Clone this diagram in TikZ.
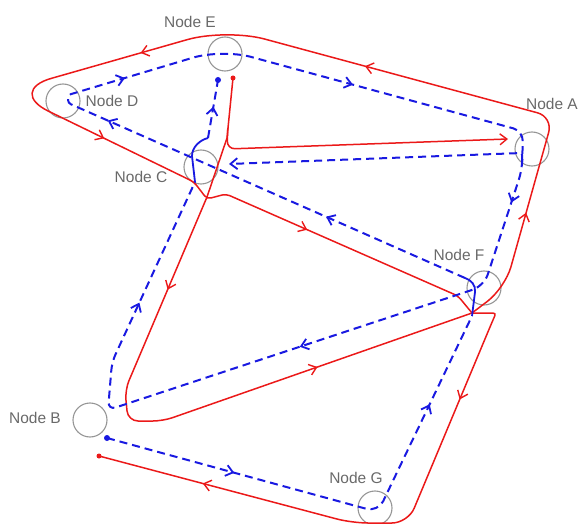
\documentclass[tikz,border=0pt]{standalone}
\usepackage{fontspec}
\setmainfont{Liberation Sans}
\usetikzlibrary{arrows.meta,decorations.markings}
\definecolor{lblgray}{RGB}{105,105,105}
\definecolor{circgray}{RGB}{150,150,150}
\definecolor{rline}{RGB}{235,25,25}
\definecolor{bline}{RGB}{25,25,225}
\tikzset{
  nd/.style={circle, draw=circgray, line width=1.1pt, minimum size=34pt, inner sep=0pt},
  lbl/.style={text=lblgray, font=\fontsize{15.5}{18}\selectfont, inner sep=0pt},
  redl/.style={draw=rline, line width=1.5pt},
  bluel/.style={draw=bline, line width=2pt, dash pattern=on 8pt off 5pt},
  bluesolid/.style={draw=bline, line width=1.8pt},
  rmtip/.tip={Straight Barb[length=7pt,width=11pt,line width=1.4pt,color=rline]},
  bmtip/.tip={Straight Barb[length=7pt,width=11pt,line width=1.8pt,color=bline]},
  rarr/.style={draw=none, decoration={markings, mark=at position #1 with {\arrow{rmtip}}}, decorate},
  barr/.style={draw=none, decoration={markings, mark=at position #1 with {\arrow{bmtip}}}, decorate}
}
\begin{document}
\begin{tikzpicture}[x=1pt,y=-1pt]
\useasboundingbox (0,0) rectangle (579,524);

% nodes
\node[nd] (E) at (225,54) {};
\node[nd] (D) at (63,101) {};
\node[nd] (C) at (201,167) {};
\node[nd] (A) at (532,149) {};
\node[nd] (F) at (484,288) {};
\node[nd] (B) at (90,420) {};
\node[nd] (G) at (375,508) {};

% labels
\node[lbl] (lE) at (190,22) {Node E};
\node[lbl] (lD) at (112,101) {Node D};
\node[lbl] (lC) at (141,177) {Node C};
\node[lbl] (lA) at (552,104) {Node A};
\node[lbl] (lF) at (459,255) {Node F};
\node[lbl] (lB) at (35,418) {Node B};
\node[lbl] (lG) at (356,478) {Node G};

% red waypoints
\coordinate (rE0) at (233,78);
\coordinate (rE1) at (227,138);
\coordinate (rEb) at (227.8,128);
\coordinate (rEc) at (227,149);
\coordinate (rA0) at (508,139);
\coordinate (rC1) at (207,197);
\coordinate (rB1) at (125,390);
\coordinate (rB2) at (128,421);
\coordinate (rB3) at (163,421);
\coordinate (rF0) at (472,313);
\coordinate (rF1) at (505,288);
\coordinate (rA1) at (553,117);
\coordinate (rE2) at (226,28.6);
\coordinate (rD1) at (7,91);
\coordinate (rC2) at (194,182);
\coordinate (rC3) at (207,199);
\coordinate (rC4) at (226,194);
\coordinate (rF2) at (458,296);
\coordinate (rF3) at (496,313);
\coordinate (rF4) at (490,327);
\coordinate (rG1) at (408,523);
\coordinate (rG2) at (352,523);
\coordinate (rB4) at (99,456);

% red connectors
\draw[redl] (rE0) -- (rE1) -- (rC1) [rounded corners=10pt] -- (rB1) -- (rB2) -- (rB3) -- (rF0);
\draw[redl, rounded corners=8pt, -{rmtip}] (rEb) -- (rEc) -- (rA0);
\draw[redl] (rF0) [rounded corners=22pt] -- (rF1) [rounded corners=16pt] -- (rA1) [rounded corners=40pt] -- (rE2) [rounded corners=46pt] -- (rD1) [rounded corners=4pt] -- (rC2) -- (rC3) -- (rC4) -- (rF2) -- (rF0);
\draw[redl, rounded corners=3pt] (rF0) -- (rF3) -- (rF4) [rounded corners=16pt] -- (rG1) -- (rG2) -- (rB4);
\fill[rline] (rE0) circle (2.5pt);
\fill[rline] (rB4) circle (2.5pt);

\path[rarr=0.48] (rC1) -- (rB1);
\path[rarr=0.50] (rB3) -- (rF0);
\path[rarr=0.44] (rF1) -- (rA1);
\path[rarr=0.575] (rA1) -- (rE2);
\path[rarr=0.39] (rE2) -- (rD1);
\path[rarr=0.52] (rD1) -- (rC2);
\path[rarr=0.35] (rC4) -- (rF2);
\path[rarr=0.37] (rF4) -- (rG1);
\path[rarr=0.59] (rG2) -- (rB4);

% blue waypoints
\coordinate (bB0) at (107,438);
\coordinate (bG1) at (378,512);
\coordinate (bF0) at (472,316);
\coordinate (bF1) at (475,292);
\coordinate (bF2) at (465,278);
\coordinate (bD1) at (68,103);
\coordinate (bD2) at (68,95);
\coordinate (bE1) at (222,49);
\coordinate (bA1) at (523,131);
\coordinate (bA2) at (522,170);
\coordinate (bF3) at (484,286);
\coordinate (bB1) at (108,410);
\coordinate (bB2) at (112,362);
\coordinate (bC1) at (195,182);
\coordinate (bC2) at (192,156);
\coordinate (bC3) at (208,138);
\coordinate (bE0) at (218,80);
\coordinate (bA3) at (522,162);
\coordinate (bA4) at (522,153);
\coordinate (bC4) at (229,164);

% blue connectors
\draw[bluel, rounded corners=12pt] (bB0) -- (bG1) -- (bF0);
\draw[bluesolid] (bF0) -- (bF1) .. controls (476,285) and (471,280) .. (bF2);
\draw[bluel] (bF2) [rounded corners=3pt] -- (bD1) -- (bD2) [rounded corners=30pt] -- (bE1) [rounded corners=10pt] -- (bA1) -- (bA2) [rounded corners=12pt] -- (bF3) [rounded corners=8pt] -- (bB1) -- (bB2) -- (bC1);
\draw[bluesolid] (bC1) -- (bC2) .. controls (192,147) and (200,140) .. (bC3);
\draw[bluel] (bC3) -- (bE0);
\draw[bluel, rounded corners=2pt, -{bmtip}] (bA3) -- (bA4) -- (bC4);
\fill[bline] (bB0) circle (3pt);
\fill[bline] (bE0) circle (3pt);

\path[barr=0.47] (bB0) -- (bG1);
\path[barr=0.55] (bG1) -- (bF0);
\path[barr=0.35] (bF2) -- (bD1);
\path[barr=0.90] (bF2) -- (bD1);
\path[barr=0.37] (bD2) -- (bE1);
\path[barr=0.435] (bE1) -- (bA1);
\path[barr=0.28] (bA2) -- (bF3);
\path[barr=0.49] (bF3) -- (bB1);
\path[barr=0.33] (bB2) -- (bC1);
\path[barr=0.54] (bC3) -- (bE0);
\end{tikzpicture}
\end{document}
